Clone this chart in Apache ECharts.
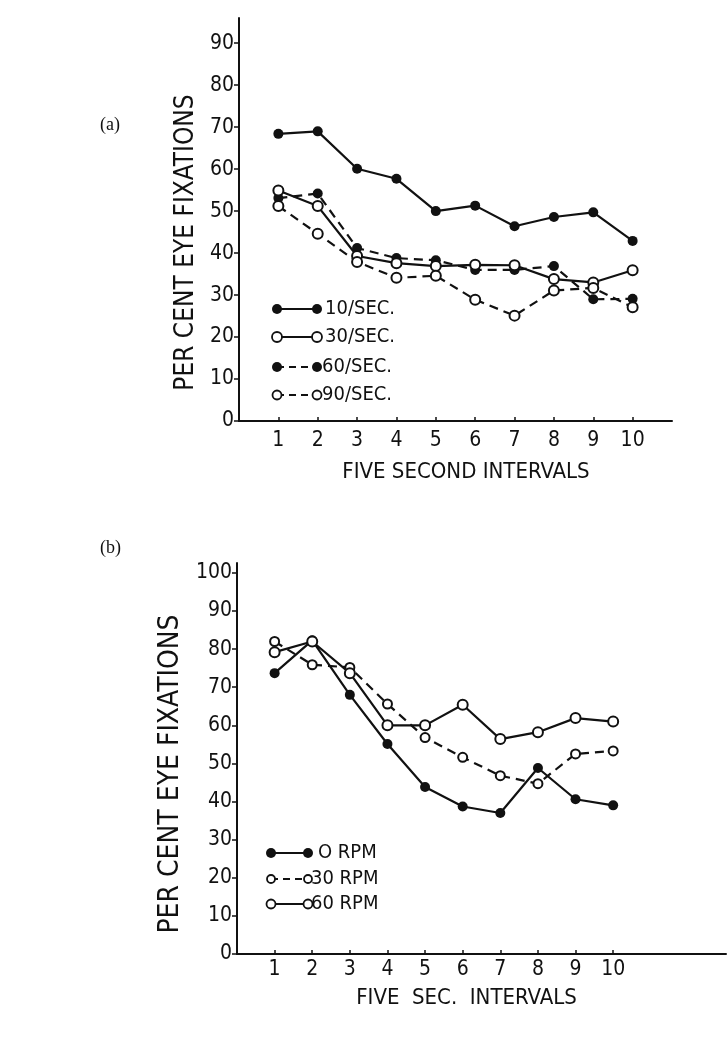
<!DOCTYPE html>
<html>
<head>
<meta charset="utf-8">
<script src="https://cdn.jsdelivr.net/npm/echarts@6/dist/echarts.min.js"></script>
<style>
html,body{margin:0;padding:0;background:#fff;}
#c{width:727px;height:1050px;}
</style>
</head>
<body>
<div id="c"></div>
<script>
// ---- data ----
const intervals = [1, 2, 3, 4, 5, 6, 7, 8, 9, 10];
const yTicksA = [0, 10, 20, 30, 40, 50, 60, 70, 80, 90];
const yTicksB = [0, 10, 20, 30, 40, 50, 60, 70, 80, 90, 100];

const a10 = [68.4, 69.0, 60.1, 57.7, 50.0, 51.3, 46.4, 48.6, 49.7, 42.9];
const a30 = [54.9, 51.2, 39.3, 37.6, 36.9, 37.2, 37.1, 33.8, 33.0, 35.9];
const a60 = [53.1, 54.2, 41.2, 38.8, 38.3, 36.0, 36.0, 36.9, 29.0, 29.1];
const a90 = [51.2, 44.6, 37.9, 34.1, 34.6, 28.9, 25.1, 31.1, 31.7, 27.1];

const b0 = [73.7, 82.3, 68.0, 55.1, 43.8, 38.7, 37.0, 48.8, 40.6, 39.0];
const b30 = [82.0, 75.9, 75.2, 65.6, 56.8, 51.6, 46.8, 44.7, 52.5, 53.3];
const b60 = [79.2, 82.0, 73.7, 60.0, 60.0, 65.4, 56.4, 58.2, 61.9, 61.0];

const namesA = ['10/SEC.', '30/SEC.', '60/SEC.', '90/SEC.'];
const namesB = ['O RPM', '30 RPM', '60 RPM'];

// ---- styles ----
const FONT = '"DejaVu Sans Condensed", "DejaVu Sans", sans-serif';
const pts = v => intervals.map((x, i) => [x, v[i]]);

function series(name, vals, idx, filled, dashed, size) {
  return {
    name: name, type: 'line', xAxisIndex: idx, yAxisIndex: idx,
    data: pts(vals), symbol: 'circle', symbolSize: size,
    lineStyle: {color: '#111', width: 2.2, type: dashed ? [9, 6] : 'solid'},
    itemStyle: {color: filled ? '#111' : '#fff', borderColor: '#111', borderWidth: filled ? 0 : 2},
    emphasis: {disabled: true}, animation: false, z: filled ? 3 : 4
  };
}

function xAxis(idx, max, name, pad, gap) {
  return {
    type: 'value', gridIndex: idx, min: 0, max: max,
    name: name, nameLocation: 'middle', nameGap: gap,
    nameTextStyle: {fontFamily: FONT, fontSize: 22, color: '#111', padding: pad},
    axisLine: {lineStyle: {color: '#111', width: 2}},
    axisTick: {show: true, inside: true, length: 4, lineStyle: {color: '#111', width: 1.5}, customValues: intervals},
    axisLabel: {fontFamily: FONT, fontSize: 21, color: '#111', margin: idx === 0 ? 9 : 5, customValues: intervals},
    splitLine: {show: false}
  };
}
function yAxis(idx, max, ticks, pad, gap, fs) {
  return {
    type: 'value', gridIndex: idx, min: 0, max: max,
    name: 'PER CENT EYE FIXATIONS', nameLocation: 'middle', nameGap: gap, nameRotate: 90,
    nameTextStyle: {fontFamily: FONT, fontSize: fs, color: '#111', padding: pad},
    axisLine: {show: true, lineStyle: {color: '#111', width: 2}},
    axisTick: {show: true, inside: false, length: 5, lineStyle: {color: '#111', width: 1.5}, customValues: ticks},
    axisLabel: {fontFamily: FONT, fontSize: 21, color: '#111', margin: 5, customValues: ticks},
    splitLine: {show: false}
  };
}

// legend built with graphic primitives
function legendItem(x1, x2, y, filled, dashed, r, label, tx, fs) {
  const circ = cx => ({type: 'circle', shape: {cx: cx, cy: y, r: r},
    style: {fill: filled ? '#111' : '#fff', stroke: '#111', lineWidth: filled ? 0 : 1.8}, z: 10});
  return [
    {type: 'line', shape: {x1: x1, y1: y, x2: x2, y2: y},
      style: {stroke: '#111', lineWidth: 2, lineDash: dashed ? [7, 5] : null}, z: 9},
    circ(x1), circ(x2),
    {type: 'text', x: tx, y: y, style: {text: label, fontFamily: FONT, fontSize: fs, fill: '#111', verticalAlign: 'middle'}, z: 10}
  ];
}

const graphics = [].concat(
  legendItem(277, 317, 309, true, false, 5, namesA[0], 325, 20),
  legendItem(277, 317, 337, false, false, 5, namesA[1], 325, 20),
  legendItem(277, 317, 367, true, true, 5, namesA[2], 322, 20),
  legendItem(277, 317, 395, false, true, 4.5, namesA[3], 322, 20),
  legendItem(271, 308, 853, true, false, 5, namesB[0], 318, 20),
  legendItem(271, 308, 879, false, true, 4, namesB[1], 311, 20),
  legendItem(271, 308, 904, false, false, 4.5, namesB[2], 311, 20),
  [
    {type: 'text', x: 100, y: 125, style: {text: '(a)', fontFamily: '"Liberation Serif", serif', fontSize: 18, fill: '#111', verticalAlign: 'middle'}},
    {type: 'text', x: 100, y: 548, style: {text: '(b)', fontFamily: '"Liberation Serif", serif', fontSize: 18, fill: '#111', verticalAlign: 'middle'}}
  ]
);

const chart = echarts.init(document.getElementById('c'), null, {renderer: 'canvas'});
chart.setOption({
  backgroundColor: '#fff',
  animation: false,
  grid: [
    {left: 239, right: 55, top: 18, bottom: 629},
    {left: 237, right: 1, top: 563, bottom: 96}
  ],
  xAxis: [
    xAxis(0, 11, 'FIVE SECOND INTERVALS', [0, 0, 0, 21], 40),
    xAxis(1, 13, 'FIVE  SEC.  INTERVALS', [0, 30, 0, 0], 33)
  ],
  yAxis: [
    yAxis(0, 96, yTicksA, [0, 46, 0, 0], 37, 26),
    yAxis(1, 102.6, yTicksB, [0, 31, 0, 0], 36, 28)
  ],
  series: [
    series(namesA[0], a10, 0, true, false, 10),
    series(namesA[1], a30, 0, false, false, 10),
    series(namesA[2], a60, 0, true, true, 10),
    series(namesA[3], a90, 0, false, true, 10),
    series(namesB[0], b0, 1, true, false, 10),
    series(namesB[1], b30, 1, false, true, 9),
    series(namesB[2], b60, 1, false, false, 10)
  ],
  graphic: graphics
});
</script>
</body>
</html>
